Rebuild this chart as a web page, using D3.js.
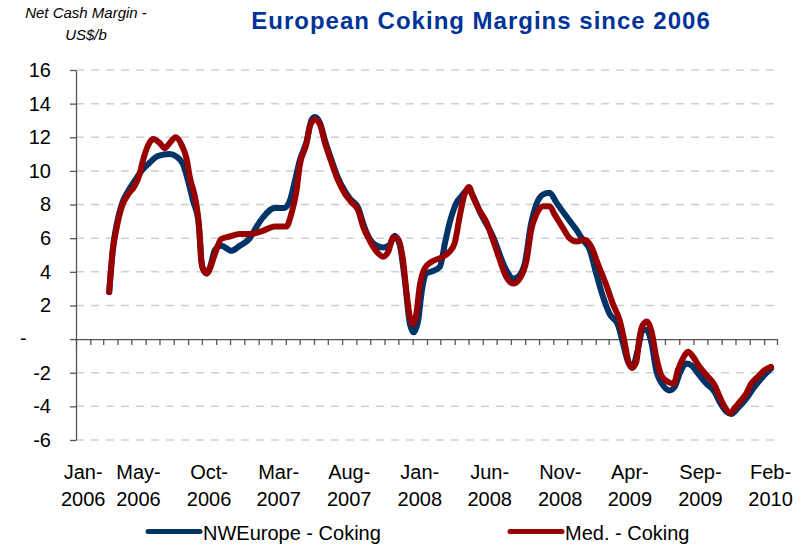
<!DOCTYPE html>
<html>
<head>
<meta charset="utf-8">
<script src="https://cdn.jsdelivr.net/npm/d3@7"></script>
<style>
  body { margin: 0; background: #fff; }
  svg { display: block; font-family: "Liberation Sans", Arial, sans-serif; }
</style>
</head>
<body>
<svg width="807" height="547"></svg>
<script>
// Chart data
var title = "European Coking Margins since 2006";
var yTitle = ["Net Cash Margin -", "US$/b"];
var yTicks = [-6, -4, -2, 0, 2, 4, 6, 8, 10, 12, 14, 16];

var labelMonths = ["2006-01", "2006-05", "2006-10", "2007-03", "2007-08", "2008-01",
                   "2008-06", "2008-11", "2009-04", "2009-09", "2010-02"];
var labelTop = ["Jan-", "May-", "Oct-", "Mar-", "Aug-", "Jan-", "Jun-", "Nov-", "Apr-", "Sep-", "Feb-"];
var labelBottom = ["2006", "2006", "2006", "2007", "2007", "2008", "2008", "2008", "2009", "2009", "2010"];

var seriesNames = ["NWEurope - Coking", "Med. - Coking"];

var nweDates = [
  "2006-03-14", "2006-03-22", "2006-03-30", "2006-04-10", "2006-04-24", "2006-05-08", "2006-05-26",
  "2006-06-10", "2006-06-28", "2006-07-23", "2006-08-07", "2006-08-21", "2006-09-01", "2006-09-12",
  "2006-09-23", "2006-09-27", "2006-09-29", "2006-10-03", "2006-10-11", "2006-10-20", "2006-10-29",
  "2006-11-12", "2006-12-04", "2006-12-22", "2007-01-13", "2007-01-28", "2007-02-11", "2007-03-08",
  "2007-03-29", "2007-04-10", "2007-04-21", "2007-05-01", "2007-05-16", "2007-05-27", "2007-06-03",
  "2007-06-14", "2007-06-25", "2007-07-09", "2007-07-23", "2007-08-07", "2007-08-18", "2007-09-05",
  "2007-09-16", "2007-09-30", "2007-10-15", "2007-10-29", "2007-11-12", "2007-11-23", "2007-12-04",
  "2007-12-15", "2007-12-26", "2008-01-03", "2008-01-13", "2008-01-20", "2008-01-31", "2008-02-14",
  "2008-02-29", "2008-03-11", "2008-03-21", "2008-04-05", "2008-04-16", "2008-04-30", "2008-05-11",
  "2008-05-25", "2008-06-23", "2008-07-22", "2008-08-06", "2008-08-16", "2008-08-31", "2008-09-14",
  "2008-09-25", "2008-10-10", "2008-10-24", "2008-11-08", "2008-11-29", "2008-12-21", "2009-01-04",
  "2009-01-19", "2009-02-02", "2009-02-17", "2009-03-03", "2009-03-21", "2009-04-01", "2009-04-12",
  "2009-04-21", "2009-05-03", "2009-05-14", "2009-05-22", "2009-06-02", "2009-06-12", "2009-06-27",
  "2009-07-11", "2009-07-22", "2009-08-02", "2009-08-16", "2009-08-27", "2009-09-11", "2009-09-29",
  "2009-10-17", "2009-10-28", "2009-11-11", "2009-11-22", "2009-12-06", "2009-12-24", "2010-01-11",
  "2010-01-29", "2010-02-16"
];
var nweValues = [
  2.8, 5.4, 6.8, 8.0, 8.8, 9.4, 10.1,
  10.5, 10.9, 11.0, 10.85, 10.4, 9.4, 8.2,
  7.1, 5.8, 4.9, 4.2, 3.9, 4.4, 5.3,
  5.55, 5.25, 5.55, 6.0, 6.7, 7.25, 7.8,
  7.8, 8.25, 9.45, 10.6, 11.75, 13.05, 13.2,
  12.85, 11.8, 10.65, 9.6, 8.8, 8.35, 7.8,
  6.85, 5.95, 5.55, 5.45, 5.6, 6.15, 5.6,
  3.5, 0.9, 0.4, 1.1, 2.7, 3.9, 4.05,
  4.3, 5.7, 6.9, 8.1, 8.5, 8.9, 8.5,
  7.6, 6.1, 4.1, 3.6, 3.7, 4.5, 6.9,
  8.0, 8.6, 8.7, 8.1, 7.3, 6.5, 5.9,
  5.3, 3.9, 2.5, 1.5, 0.85, -0.25, -1.35,
  -1.7, -0.65, 0.55, 0.55, -0.25, -1.85, -2.75,
  -3.05, -2.85, -2.05, -1.45, -1.55, -2.05, -2.65,
  -3.15, -3.75, -4.3, -4.45, -4.1, -3.55, -2.85,
  -2.25, -1.75
];

var medDates = [
  "2006-03-14", "2006-03-22", "2006-03-30", "2006-04-10", "2006-04-24", "2006-05-08", "2006-05-19",
  "2006-05-26", "2006-06-06", "2006-06-17", "2006-07-02", "2006-07-12", "2006-07-23", "2006-08-05",
  "2006-08-18", "2006-08-29", "2006-09-05", "2006-09-16", "2006-09-23", "2006-09-27", "2006-09-29",
  "2006-10-03", "2006-10-12", "2006-10-20", "2006-10-29", "2006-11-12", "2006-11-30", "2006-12-22",
  "2007-01-13", "2007-02-11", "2007-03-08", "2007-04-02", "2007-04-13", "2007-04-24", "2007-05-01",
  "2007-05-16", "2007-05-23", "2007-06-03", "2007-06-14", "2007-06-25", "2007-07-09", "2007-07-23",
  "2007-08-07", "2007-08-21", "2007-09-05", "2007-09-16", "2007-09-30", "2007-10-15", "2007-10-29",
  "2007-11-09", "2007-11-20", "2007-11-30", "2007-12-11", "2007-12-19", "2007-12-26", "2008-01-02",
  "2008-01-09", "2008-01-16", "2008-01-27", "2008-02-11", "2008-03-03", "2008-03-21", "2008-04-01",
  "2008-04-12", "2008-04-23", "2008-05-02", "2008-05-11", "2008-05-25", "2008-06-09", "2008-06-23",
  "2008-07-08", "2008-07-22", "2008-08-06", "2008-08-20", "2008-09-04", "2008-09-14", "2008-09-25",
  "2008-10-10", "2008-10-24", "2008-11-04", "2008-11-22", "2008-12-06", "2008-12-21", "2009-01-08",
  "2009-01-22", "2009-02-06", "2009-02-24", "2009-03-10", "2009-03-25", "2009-04-05", "2009-04-12",
  "2009-04-21", "2009-04-30", "2009-05-06", "2009-05-14", "2009-05-23", "2009-06-02", "2009-06-12",
  "2009-06-23", "2009-07-08", "2009-07-20", "2009-07-29", "2009-08-09", "2009-08-20", "2009-08-31",
  "2009-09-14", "2009-09-29", "2009-10-17", "2009-10-28", "2009-11-07", "2009-11-20", "2009-11-29",
  "2009-12-13", "2009-12-24", "2010-01-04", "2010-01-18", "2010-02-02", "2010-02-16"
];
var medValues = [
  2.8, 5.3, 6.6, 7.85, 8.6, 9.1, 9.8,
  10.6, 11.5, 11.9, 11.65, 11.35, 11.65, 12.0,
  11.55, 10.7, 9.6, 8.45, 7.2, 5.85, 4.9,
  4.2, 3.9, 4.3, 5.05, 5.95, 6.1, 6.25,
  6.25, 6.45, 6.7, 6.7, 7.45, 8.8, 10.3,
  11.65, 12.65, 13.05, 12.75, 11.65, 10.5, 9.45,
  8.65, 8.15, 7.65, 6.65, 5.85, 5.2, 4.9,
  5.2, 6.05, 5.95, 4.7, 2.7, 1.3, 0.9,
  1.5, 3.1, 4.2, 4.6, 4.85, 5.2, 5.7,
  7.3, 8.65, 9.05, 8.45, 7.65, 6.95, 5.9,
  4.7, 3.7, 3.3, 3.6, 4.7, 6.5, 7.4,
  7.9, 7.9, 7.4, 6.6, 6.0, 5.8, 5.9,
  5.5, 4.45, 3.2, 2.1, 1.1, -0.25, -1.25,
  -1.7, -1.35, -0.05, 0.85, 1.05, 0.45, -1.05,
  -2.15, -2.55, -2.65, -1.85, -1.15, -0.75, -1.05,
  -1.65, -2.15, -2.75, -3.45, -4.0, -4.4, -4.1,
  -3.65, -3.25, -2.65, -2.25, -1.85, -1.65
];

var colors = ["#003366", "#990000"];

// Plot area
var plotLeft = 76, plotRight = 777, plotTop = 70, plotBottom = 440;

var parseDate = d3.timeParse("%Y-%m-%d");
var parseMonth = d3.timeParse("%Y-%m");

var x = d3.scaleTime()
    .domain([new Date(2006, 0, 1), new Date(2010, 2, 1)])
    .range([plotLeft, plotRight]);

var y = d3.scaleLinear()
    .domain([-6, 16])
    .range([plotBottom, plotTop]);

var svg = d3.select("svg");

// dashed gridlines
svg.append("g")
    .selectAll("line")
    .data(yTicks.filter(function (d) { return d !== 0; }))
    .enter().append("line")
    .attr("x1", plotLeft)
    .attr("x2", plotRight - 2)
    .attr("y1", function (d) { return y(d); })
    .attr("y2", function (d) { return y(d); })
    .attr("stroke", "#cfcfcf")
    .attr("stroke-width", 1.5)
    .attr("stroke-dasharray", "8,7");

// y axis
var yAxis = svg.append("g")
    .attr("transform", "translate(" + plotLeft + ",0)")
    .call(d3.axisLeft(y)
        .tickValues(yTicks)
        .tickSize(6)
        .tickSizeOuter(0)
        .tickPadding(19)
        .tickFormat(function (d) { return d === 0 ? "" : d; }));
yAxis.selectAll("path, line").attr("stroke", "#555").attr("stroke-width", 1.3);
yAxis.selectAll("text")
    .attr("font-size", 20)
    .attr("font-family", "'Liberation Sans', Arial, sans-serif")
    .attr("fill", "#000");

// zero shown as a dash
svg.append("text")
    .attr("x", 20)
    .attr("y", y(0))
    .attr("dy", "0.32em")
    .attr("font-size", 20)
    .text("-");

// x axis on the zero line, one tick per month
var xAxis = svg.append("g")
    .attr("transform", "translate(0," + y(0) + ")")
    .call(d3.axisBottom(x)
        .tickValues(d3.timeMonth.range(new Date(2006, 0, 1), new Date(2010, 2, 2)))
        .tickSize(6)
        .tickSizeOuter(0)
        .tickFormat(""));
xAxis.selectAll("path, line").attr("stroke", "#555").attr("stroke-width", 1.3);

// x labels, centred in their month
function monthMid(m) {
    var a = parseMonth(m);
    return (x(a) + x(d3.timeMonth.offset(a, 1))) / 2;
}
var labels = svg.append("g")
    .selectAll("text")
    .data(labelMonths)
    .enter().append("text")
    .attr("text-anchor", "middle")
    .attr("font-size", 20)
    .attr("x", function (d) { return monthMid(d); })
    .attr("y", 479);
labels.append("tspan")
    .attr("x", function (d) { return monthMid(d); })
    .text(function (d, i) { return labelTop[i]; });
labels.append("tspan")
    .attr("x", function (d) { return monthMid(d); })
    .attr("dy", 27)
    .text(function (d, i) { return labelBottom[i]; });

// lines
var line = d3.line()
    .x(function (d) { return x(d.date); })
    .y(function (d) { return y(d.value); })
    .curve(d3.curveMonotoneX);

var series = [
    nweDates.map(function (d, i) { return { date: parseDate(d), value: nweValues[i] }; }),
    medDates.map(function (d, i) { return { date: parseDate(d), value: medValues[i] }; })
];

svg.append("g")
    .selectAll("path")
    .data(series)
    .enter().append("path")
    .attr("d", line)
    .attr("fill", "none")
    .attr("stroke", function (d, i) { return colors[i]; })
    .attr("stroke-width", 6)
    .attr("stroke-linejoin", "round")
    .attr("stroke-linecap", "round");

// title
svg.append("text")
    .attr("x", 481)
    .attr("y", 29)
    .attr("text-anchor", "middle")
    .attr("font-size", 24)
    .attr("font-weight", "bold")
    .attr("letter-spacing", 1)
    .attr("fill", "#003399")
    .text(title);

// y axis title
svg.append("g")
    .selectAll("text")
    .data(yTitle)
    .enter().append("text")
    .attr("x", 86)
    .attr("y", function (d, i) { return 18 + i * 22; })
    .attr("text-anchor", "middle")
    .attr("font-size", 15)
    .attr("font-style", "italic")
    .text(function (d) { return d; });

// legend
var legendX = [148, 510];
var legend = svg.append("g")
    .selectAll("g")
    .data(seriesNames)
    .enter().append("g")
    .attr("transform", function (d, i) { return "translate(" + legendX[i] + ",0)"; });
legend.append("line")
    .attr("x1", 0).attr("x2", 52)
    .attr("y1", 531.5).attr("y2", 531.5)
    .attr("stroke", function (d, i) { return colors[i]; })
    .attr("stroke-width", 5)
    .attr("stroke-linecap", "round");
legend.append("text")
    .attr("x", 55)
    .attr("y", 540)
    .attr("font-size", 20)
    .text(function (d) { return d; });
</script>
</body>
</html>
